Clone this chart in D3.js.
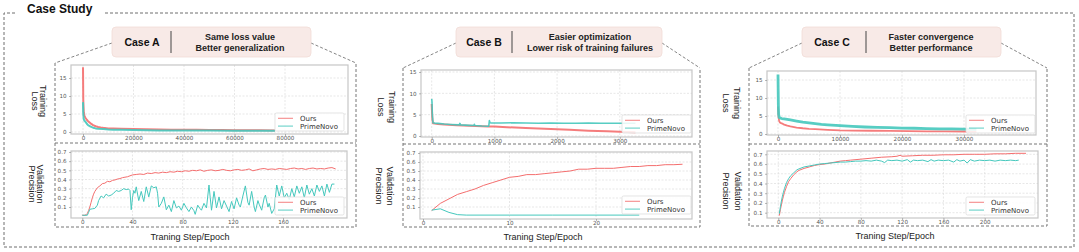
<!DOCTYPE html>
<html><head><meta charset="utf-8">
<script src="https://cdn.jsdelivr.net/npm/d3@7"></script>
<style>body{margin:0;background:#fff;} svg{display:block;}</style>
</head><body><svg id="c" width="1079" height="252"></svg>
<script>
// ---------------- DATA ----------------
const seriesNames = ["Ours", "PrimeNovo"];
const caseTitles = ["Case A", "Case B", "Case C"];
const caseLines = [["Same loss value", "Better generalization"],
                   ["Easier optimization", "Lower risk of training failures"],
                   ["Faster convergence", "Better performance"]];
const lossYTicks = [0, 5, 10, 15];
const valYTicks = [0.1, 0.2, 0.3, 0.4, 0.5, 0.6, 0.7];
const aLossXTicks = [0, 20000, 40000, 60000, 80000];
const aValXTicks = [0, 40, 80, 120, 160];
const bLossXTicks = [0, 1000, 2000, 3000];
const bValXTicks = [0, 10, 20];
const cLossXTicks = [0, 10000, 20000, 30000];
const cValXTicks = [0, 40, 80, 120, 160, 200];

// Case A - training loss
const aLossStepO = [0,100,300,500,800,1000,1500,2000,2500,3000,4000,5000,6000,7000,8000,10000,12000,15000,20000,25000,30000,35000,40000,45000,50000,55000,60000,65000,70000,76000];
const aLossO =     [18,9,5.5,4.6,4.2,3.9,3.4,3.0,2.7,2.4,1.9,1.6,1.4,1.25,1.15,1.0,0.95,0.9,0.8,0.75,0.7,0.65,0.6,0.6,0.55,0.55,0.5,0.5,0.5,0.45];
const aLossStepP = [0,100,300,500,800,1000,1500,2000,3000,4000,5000,6000,8000,10000,12000,15000,20000,25000,30000,40000,50000,60000,70000,76000];
const aLossP =     [8.3,5,3.6,3.2,3.0,2.8,2.3,1.9,1.5,1.2,1.0,0.9,0.8,0.7,0.65,0.6,0.55,0.5,0.45,0.4,0.4,0.35,0.35,0.35];
// Case A - validation precision
const aValEpO = [0,2,3,4,5,6,7,8,9,10,12,14,16,18,20,22,24,26,28,30,32,34,36,38,40,43,46,49,52,55,58,61,64,67,70,73,76,79,82,85,88,91,94,97,100,103,106,109,112,115,118,121,124,127,130,133,136,139,142,145,148,151,154,157,160,163,166,169,172,175,178,181,184,187,190,193,196,199,202];
const aValO =   [0.01,0.01,0.015,0.03,0.06,0.1,0.15,0.2,0.24,0.27,0.31,0.33,0.355,0.36,0.38,0.375,0.39,0.395,0.405,0.41,0.42,0.425,0.43,0.44,0.45,0.455,0.46,0.455,0.47,0.465,0.475,0.47,0.48,0.475,0.485,0.48,0.49,0.485,0.495,0.49,0.5,0.495,0.505,0.49,0.5,0.505,0.495,0.5,0.51,0.5,0.495,0.505,0.51,0.5,0.505,0.515,0.495,0.505,0.515,0.52,0.51,0.515,0.51,0.52,0.515,0.51,0.52,0.525,0.515,0.52,0.51,0.52,0.525,0.515,0.52,0.515,0.525,0.53,0.515];
const aValEpP = [0,4,5,6,8,10,12,13,15,17,19,21,23,25,27,29,31,33,35,37,38,39,40,41,42,43,45,47,49,51,53,55,57,59,60,61,63,65,67,69,71,73,75,77,79,81,83,85,87,89,90,92,94,95,97,99,101,102,103,105,107,109,111,113,115,117,119,121,123,125,126,128,130,132,133,135,137,138,140,141,143,145,146,148,149,151,153,155,157,159,161,163,165,167,169,171,173,175,177,179,181,183,185,187,189,191,193,195,197,199,201];
const aValP =   [0.01,0.01,0.04,0.075,0.08,0.085,0.12,0.17,0.22,0.2,0.24,0.22,0.23,0.25,0.28,0.27,0.28,0.3,0.29,0.295,0.28,0.07,0.2,0.28,0.25,0.32,0.17,0.27,0.16,0.32,0.21,0.33,0.31,0.32,0.25,0.1,0.14,0.21,0.07,0.12,0.05,0.17,0.09,0.11,0.065,0.14,0.09,0.05,0.1,0.06,0.02,0.12,0.08,0.065,0.14,0.09,0.34,0.2,0.065,0.27,0.09,0.21,0.08,0.17,0.11,0.05,0.16,0.08,0.2,0.12,0.1,0.22,0.33,0.15,0.12,0.27,0.1,0.05,0.17,0.13,0.065,0.2,0.23,0.1,0.14,0.03,0.08,0.34,0.22,0.33,0.2,0.25,0.18,0.3,0.21,0.33,0.25,0.32,0.2,0.34,0.24,0.3,0.22,0.34,0.27,0.33,0.22,0.35,0.26,0.35,0.35];

// Case B - training loss
const bLossStepO = [0,10,20,50,100,200,400,600,900,1000,1200,1500,1800,2000,2200,2500,2800,3000,3250];
const bLossO =     [7.5,4,3.0,2.9,2.8,2.7,2.5,2.4,2.25,2.2,2.05,1.9,1.7,1.6,1.45,1.25,1.1,1.0,0.9];
const bLossStepP = [0,5,10,20,50,100,200,300,440,450,460,600,670,680,690,800,900,910,920,930,950,1100,1300,1500,1700,1900,2100,2300,2500,2700,2900,3100,3250];
const bLossP =     [8.7,8.0,5,3.1,3.0,2.95,2.8,2.7,2.6,2.95,2.6,2.5,2.45,2.75,2.45,2.35,2.3,2.3,3.6,3.1,3.05,3.05,3.1,3.05,3.0,3.05,3.0,3.0,3.05,3.0,3.0,3.0,3.0];
// Case B - validation precision
const bValEpO = [1,2,3,4,5,6,7,8,9,10,11,12,13,14,15,16,17,18,19,20,21,22,23,24,25,26,27,28,29,30];
const bValO =   [0.06,0.14,0.19,0.24,0.27,0.3,0.34,0.37,0.4,0.43,0.44,0.46,0.46,0.47,0.48,0.49,0.5,0.52,0.52,0.53,0.53,0.53,0.54,0.55,0.55,0.56,0.56,0.57,0.57,0.575];
const bValEpP = [1,2,3,4,5,10,15,20,25];
const bValP =   [0.065,0.08,0.04,0.015,0.01,0.01,0.01,0.01,0.01];

// Case C - training loss
const cLossStepO = [0,50,100,200,300,500,800,1000,1500,2000,3000,4000,5000,6000,8000,10000,12000,15000,18000,21000,24000,27000,30000,32000];
const cLossO =     [7.6,6,4.5,3.6,3.2,3.0,2.8,2.6,2.3,2.1,1.8,1.6,1.45,1.35,1.15,1.0,0.95,0.9,0.85,0.8,0.75,0.72,0.7,0.68];
const cLossStepP = [0,30,60,100,200,400,600,1000,2000,3000,4000,5000,6000,7000,8000,10000,12000,14000,16000,18000,20000,22000,24000,26000,28000,30000,32000];
const cLossP =     [16.5,12,8,5.5,4.6,4.4,4.3,4.2,3.9,3.6,3.3,3.1,2.9,2.7,2.55,2.3,2.1,1.95,1.85,1.75,1.65,1.6,1.5,1.45,1.4,1.35,1.3];
// Case C - validation precision
const cValEpO = [1,2,3,4,5,6,8,10,12,15,18,20,25,30,35,40,45,50,55,60,65,70,80,90,100,110,115,118,120,130,140,150,160,170,180,190,200,210,220,230,240];
const cValO =   [0.07,0.13,0.18,0.23,0.27,0.31,0.37,0.42,0.45,0.49,0.52,0.535,0.555,0.57,0.585,0.595,0.6,0.61,0.62,0.63,0.635,0.64,0.65,0.66,0.67,0.675,0.68,0.69,0.68,0.685,0.69,0.69,0.695,0.695,0.7,0.7,0.7,0.705,0.705,0.71,0.71];
const cValEpP = [1,2,3,4,5,6,8,10,12,15,18,20,25,30,35,40,45,50,55,60,65,70,75,80,85,90,95,100,103,106,110,115,120,125,128,131,135,140,145,148,151,155,160,165,170,173,176,180,183,186,190,195,200,205,210,215,220,225,230,233];
const cValP =   [0.09,0.16,0.22,0.27,0.31,0.35,0.41,0.45,0.48,0.51,0.54,0.55,0.57,0.58,0.59,0.6,0.605,0.61,0.615,0.62,0.62,0.625,0.63,0.63,0.635,0.63,0.64,0.63,0.615,0.64,0.635,0.64,0.63,0.645,0.62,0.64,0.635,0.64,0.625,0.645,0.63,0.64,0.635,0.64,0.62,0.645,0.63,0.64,0.61,0.645,0.63,0.64,0.635,0.64,0.63,0.64,0.635,0.64,0.635,0.64];

// ---------------- LAYOUT / STYLE ----------------
const COLORS = ["#f46e6e", "#45c8bd"];
const DASH = "3,2";
const FRAME_STROKE = "#c6c6c6";
const GRID = "#dcdcdc";
const SANS = "'Liberation Sans', Arial, sans-serif";
const MPL = "'DejaVu Sans', sans-serif";

const panels = [
  { box:[112,27,199,30], cx:142, div:171, tx:240, inner:{l:55,r:356,t:63,m:143,b:227}, xlab:[190,237],
    loss:{frame:[71,65,348,134], xa:[0,83,80000,285], ya:[0,132,15,78], xt:aLossXTicks,
          data:[[aLossStepO,aLossO],[aLossStepP,aLossP]], sw:[2,2], ylab:[39,101,8], leg:[275,113]},
    val:{frame:[71,151,347,218], xa:[0,82.3,160,283], ya:[0.1,207,0.7,152], xt:aValXTicks,
          data:[[aValEpO,aValO],[aValEpP,aValP]], sw:[1,1], ylab:[36,184,8], leg:[275,197]} },
  { box:[456,27,206,30], cx:484, div:512, tx:590, inner:{l:403,r:700,t:68,m:144,b:227}, xlab:[543,237],
    loss:{frame:[421,70,692,137], xa:[0,431.7,3000,619.8], ya:[0,136,15,72], xt:bLossXTicks,
          data:[[bLossStepO,bLossO],[bLossStepP,bLossP]], sw:[2,1.6], ylab:[386,107,11], leg:[622,115]},
    val:{frame:[420,152,692,219], xa:[0,423,20,596], ya:[0.1,207,0.7,153], xt:bValXTicks,
          data:[[bValEpO,bValO],[bValEpP,bValP]], sw:[1,1], ylab:[384.5,186,11], leg:[622,196]} },
  { box:[802,27,199,30], cx:832, div:866, tx:931, inner:{l:749,r:1047,t:68,m:144,b:226}, xlab:[895,236],
    loss:{frame:[767,71,1036,135], xa:[0,778,30000,964], ya:[0,134,15,80], xt:cLossXTicks,
          data:[[cLossStepO,cLossO],[cLossStepP,cLossP]], sw:[1.8,2.8], ylab:[731.5,103,11], leg:[966,115]},
    val:{frame:[767,151,1038,218], xa:[0,778.3,200,984.7], ya:[0.1,212.7,0.7,154.3], xt:cValXTicks,
          data:[[cValEpO,cValO],[cValEpP,cValP]], sw:[1,1], ylab:[732,191,12], leg:[966,197]} }
];

const svg = d3.select("#c");
let clipId = 0;

// Outer dashed frame + title
svg.append("path").attr("d","M15,13 H4 V247 H1074 V13 H103")
  .attr("fill","none").attr("stroke","#6e6e6e").attr("stroke-width",1).attr("stroke-dasharray",DASH);
svg.append("text").attr("x",27).attr("y",13).text("Case Study")
  .attr("font-family",SANS).attr("font-weight","bold").attr("font-size",12).attr("fill","#111");

function drawPlot(g, p, isLoss) {
  const [fx0, fy0, fx1, fy1] = p.frame;
  const x = d3.scaleLinear().domain([p.xa[0], p.xa[2]]).range([p.xa[1], p.xa[3]]);
  const y = d3.scaleLinear().domain([p.ya[0], p.ya[2]]).range([p.ya[1], p.ya[3]]);
  const yt = isLoss ? lossYTicks : valYTicks;

  g.append("rect").attr("x",fx0).attr("y",fy0).attr("width",fx1-fx0).attr("height",fy1-fy0).attr("fill","#fff");
  // grid
  g.selectAll(null).data(p.xt).join("line")
    .attr("x1",d=>x(d)).attr("x2",d=>x(d)).attr("y1",fy0).attr("y2",fy1)
    .attr("stroke",GRID).attr("stroke-width",0.7).attr("stroke-dasharray","2,1.5");
  g.selectAll(null).data(yt).join("line")
    .attr("x1",fx0).attr("x2",fx1).attr("y1",d=>y(d)).attr("y2",d=>y(d))
    .attr("stroke",GRID).attr("stroke-width",0.7).attr("stroke-dasharray","2,1.5");

  // clip
  const id = "clip" + (clipId++);
  g.append("clipPath").attr("id",id).append("rect")
    .attr("x",fx0).attr("y",fy0).attr("width",fx1-fx0).attr("height",fy1-fy0);
  const lg = g.append("g").attr("clip-path",`url(#${id})`);
  p.data.forEach(([xs, ys], i) => {
    const pts = xs.map((v, k) => [v, ys[k]]);
    lg.append("path").datum(pts)
      .attr("d", d3.line().x(d=>x(d[0])).y(d=>y(d[1])))
      .attr("fill","none").attr("stroke",COLORS[i]).attr("stroke-width",p.sw[i])
      .attr("stroke-linejoin","round").attr("opacity", isLoss ? 0.9 : 1);
  });

  // frame
  g.append("rect").attr("x",fx0).attr("y",fy0).attr("width",fx1-fx0).attr("height",fy1-fy0)
    .attr("fill","none").attr("stroke",FRAME_STROKE).attr("stroke-width",1.2);

  // axes
  const xa = g.append("g").attr("transform",`translate(0,${fy1})`)
    .call(d3.axisBottom(x).tickValues(p.xt).tickSize(2).tickPadding(0.5).tickFormat(d3.format("d")));
  const ya = g.append("g").attr("transform",`translate(${fx0},0)`)
    .call(d3.axisLeft(y).tickValues(yt).tickSize(2).tickPadding(2.5).tickFormat(isLoss ? d3.format("d") : d3.format(".1f")));
  [xa, ya].forEach(a => {
    a.select(".domain").remove();
    a.selectAll("line").attr("stroke","#888").attr("stroke-width",0.6);
    a.selectAll("text").attr("font-family",MPL).attr("font-size",5.6).attr("fill","#555");
  });

  // legend
  const [lx, ly] = p.leg;
  const L = g.append("g");
  L.append("rect").attr("x",lx).attr("y",ly).attr("width",69).attr("height",18).attr("rx",1.5)
    .attr("fill","#fff").attr("fill-opacity",0.85).attr("stroke","#d8d8d8").attr("stroke-width",0.7);
  seriesNames.forEach((n, i) => {
    const yy = ly + 5.3 + i * 7.8;
    L.append("line").attr("x1",lx+3).attr("x2",lx+18).attr("y1",yy).attr("y2",yy)
      .attr("stroke",COLORS[i]).attr("stroke-width",1.1).attr("opacity",0.8);
    L.append("text").attr("x",lx+25).attr("y",yy).attr("dy","0.35em").text(n)
      .attr("font-family",MPL).attr("font-size",7).attr("fill","#333");
  });

  // y label (rotated 90deg clockwise, two lines)
  const [cx, cy, gap] = p.ylab;
  const words = isLoss ? ["Training","Loss"] : ["Validation","Precision"];
  const t = g.append("text").attr("transform",`translate(${cx},${cy}) rotate(90)`)
    .attr("text-anchor","middle").attr("font-family",SANS).attr("font-size",9).attr("fill","#222");
  words.forEach((w, i) => {
    t.append("tspan").attr("x",0).attr("y", (i === 0 ? -gap/2 : gap/2)).attr("dominant-baseline","central").text(w);
  });
}

panels.forEach((P, pi) => {
  const g = svg.append("g");
  const [bx, by, bw, bh] = P.box;
  const I = P.inner;
  // inner dashed box
  g.append("path").attr("d",`M${I.l},${I.t} V${I.b} H${I.r} V${I.t} M${I.l},${I.m} H${I.r}`)
    .attr("fill","none").attr("stroke","#777").attr("stroke-width",1).attr("stroke-dasharray",DASH);
  // diagonals
  g.append("path").attr("d",`M${bx},${by+16} L${I.l},${I.t} M${bx+bw},${by+16} L${I.r},${I.t}`)
    .attr("fill","none").attr("stroke","#777").attr("stroke-width",0.9).attr("stroke-dasharray",DASH);
  // header
  g.append("rect").attr("x",bx).attr("y",by).attr("width",bw).attr("height",bh).attr("rx",4)
    .attr("fill","#f8eae7").attr("stroke","#f1dcd7").attr("stroke-width",0.8);
  g.append("text").attr("x",P.cx).attr("y",by+18.5).attr("text-anchor","middle").text(caseTitles[pi])
    .attr("font-family",SANS).attr("font-weight","bold").attr("font-size",10.5).attr("fill","#111");
  g.append("line").attr("x1",P.div).attr("x2",P.div).attr("y1",by+4).attr("y2",by+26)
    .attr("stroke","#444").attr("stroke-width",1);
  caseLines[pi].forEach((s, i) => {
    g.append("text").attr("x",P.tx).attr("y",by+13.2+i*11).attr("text-anchor","middle").text(s)
      .attr("font-family",SANS).attr("font-weight","bold").attr("font-size",9).attr("fill","#222");
  });
  drawPlot(g.append("g"), P.loss, true);
  drawPlot(g.append("g"), P.val, false);
  g.append("text").attr("x",P.xlab[0]).attr("y",P.xlab[1]).attr("dy","0.35em").attr("text-anchor","middle")
    .text("Traning Step/Epoch").attr("font-family",SANS).attr("font-size",9).attr("fill","#222");
});
</script></body></html>
